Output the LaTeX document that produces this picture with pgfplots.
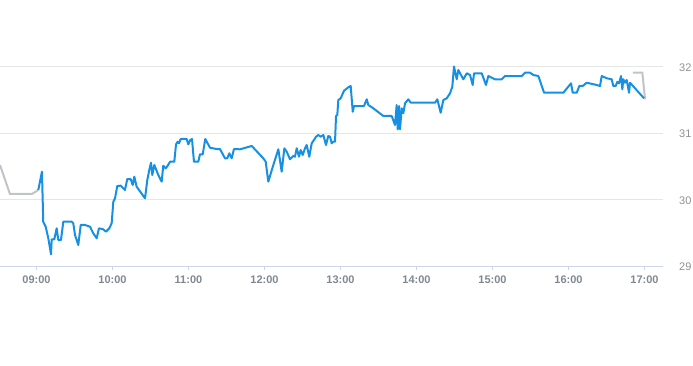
\documentclass[border=0pt]{standalone}
\usepackage{pgfplots}
\pgfplotsset{compat=1.18}
\usepackage{fontspec}
\setmainfont{Liberation Sans}
\definecolor{lineblue}{RGB}{22,144,226}
\definecolor{linegray}{RGB}{192,196,200}
\definecolor{gridc}{RGB}{230,230,230}
\definecolor{axisc}{RGB}{204,214,235}
\definecolor{labx}{RGB}{128,136,146}
\definecolor{laby}{RGB}{140,146,152}
\begin{document}
\begin{tikzpicture}
\path[use as bounding box] (0,-99.3pt) rectangle (693pt,266pt);
\begin{axis}[
  scale only axis, width=663pt, height=266pt,
  xmin=8.520, xmax=17.243, ymin=29, ymax=33,
  axis x line*=bottom, axis y line*=right,
  x axis line style={draw=axisc, line width=1pt},
  y axis line style={draw=none},
  ytick={29,30,31,32}, yticklabels={29,30,31,32},
  ymajorgrids, grid style={draw=gridc, line width=1pt},
  ytick style={draw=none},
  yticklabel style={anchor=west, inner sep=0pt, xshift=12pt, yshift=-1pt,
    font=\fontsize{11pt}{13pt}\selectfont, text=laby},
  xtick={9,10,11,12,13,14,15,16,17},
  xticklabels={09:00,10:00,11:00,12:00,13:00,14:00,15:00,16:00,17:00},
  xtick style={draw=axisc, line width=1pt},
  tick align=outside, major tick length=4pt,
  xticklabel style={anchor=base, inner sep=0pt, yshift=-13pt,
    font=\bfseries\fontsize{11pt}{13pt}\selectfont, text=labx},
  clip=false,
]
\addplot[linegray, line width=2pt] table {
x y
8.520 30.519
8.651 30.083
8.941 30.083
9.024 30.143
};
\addplot[linegray, line width=2pt] table {
x y
16.845 31.907
16.971 31.907
17.007 31.507
};
\addplot[lineblue, line width=2pt, line join=round] table {
x y
9.024 30.143
9.072 30.418
9.089 29.666
9.121 29.591
9.155 29.421
9.191 29.176
9.200 29.401
9.234 29.401
9.266 29.567
9.287 29.391
9.322 29.391
9.353 29.666
9.463 29.666
9.484 29.642
9.507 29.466
9.550 29.316
9.582 29.617
9.638 29.617
9.704 29.591
9.747 29.492
9.792 29.417
9.822 29.567
9.879 29.552
9.914 29.516
9.958 29.567
9.989 29.642
10.011 29.967
10.033 30.018
10.063 30.203
10.108 30.208
10.164 30.143
10.195 30.308
10.239 30.308
10.266 30.218
10.287 30.343
10.318 30.192
10.428 30.018
10.458 30.293
10.484 30.444
10.507 30.553
10.524 30.368
10.550 30.519
10.603 30.368
10.647 30.268
10.668 30.508
10.700 30.469
10.726 30.508
10.757 30.568
10.813 30.568
10.836 30.830
10.858 30.869
10.875 30.845
10.897 30.910
10.976 30.910
10.997 30.830
11.024 30.895
11.046 30.910
11.072 30.568
11.129 30.568
11.151 30.680
11.187 30.680
11.221 30.910
11.283 30.779
11.371 30.759
11.414 30.759
11.480 30.620
11.511 30.620
11.537 30.695
11.568 30.620
11.599 30.759
11.678 30.755
11.832 30.805
11.984 30.620
12.016 30.568
12.050 30.268
12.116 30.519
12.182 30.755
12.226 30.418
12.261 30.770
12.292 30.719
12.336 30.605
12.379 30.654
12.401 30.644
12.424 30.770
12.454 30.644
12.476 30.744
12.503 30.669
12.533 30.770
12.555 30.820
12.589 30.644
12.621 30.845
12.651 30.895
12.678 30.944
12.708 30.970
12.739 30.944
12.774 30.970
12.809 30.820
12.839 30.955
12.862 30.944
12.884 30.845
12.905 30.869
12.928 30.869
12.941 31.256
12.958 31.271
12.971 31.496
13.003 31.522
13.046 31.636
13.103 31.687
13.134 31.707
13.161 31.320
13.178 31.406
13.309 31.406
13.345 31.507
13.366 31.421
13.432 31.371
13.563 31.256
13.674 31.256
13.717 31.120
13.739 31.421
13.753 31.056
13.770 31.406
13.783 31.056
13.805 31.371
13.826 31.296
13.849 31.447
13.892 31.507
13.924 31.456
14.243 31.456
14.274 31.507
14.318 31.305
14.353 31.496
14.397 31.522
14.441 31.597
14.471 31.696
14.493 32.000
14.529 31.808
14.550 31.947
14.616 31.808
14.661 31.898
14.704 31.872
14.739 31.722
14.757 31.898
14.858 31.898
14.914 31.722
14.945 31.857
15.033 31.808
15.121 31.808
15.164 31.857
15.384 31.857
15.428 31.907
15.493 31.907
15.537 31.872
15.603 31.857
15.678 31.606
15.932 31.606
16.033 31.747
16.055 31.606
16.108 31.606
16.142 31.707
16.187 31.707
16.239 31.756
16.371 31.722
16.414 31.707
16.437 31.857
16.503 31.823
16.568 31.808
16.589 31.707
16.621 31.707
16.642 31.771
16.664 31.747
16.691 31.857
16.708 31.657
16.721 31.808
16.743 31.756
16.766 31.797
16.796 31.606
16.809 31.756
16.993 31.522
};
\end{axis}
\end{tikzpicture}
\end{document}
